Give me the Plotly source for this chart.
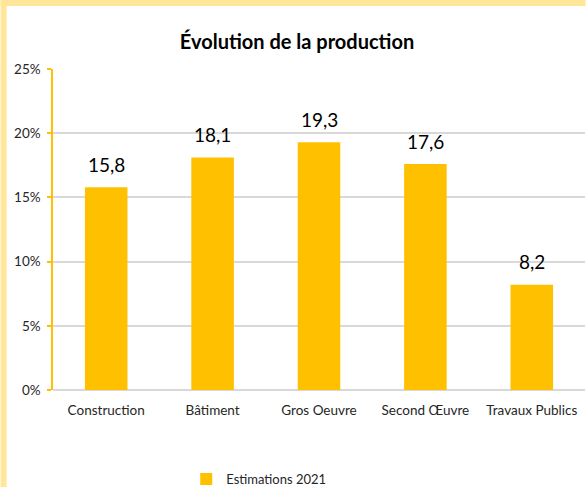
import plotly.graph_objects as go

categories = ['Construction', 'Bâtiment', 'Gros Oeuvre', 'Second Œuvre', 'Travaux Publics']
values = [15.8, 18.1, 19.3, 17.6, 8.2]
labels = ['15,8', '18,1', '19,3', '17,6', '8,2']
y_ticks = [0, 5, 10, 15, 20, 25]
y_tick_text = ['0%', '5%', '10%', '15%', '20%', '25%']
series_name = 'Estimations 2021'

W, H = 586, 487
L, R, T, B = 52.5, 0.5, 69, 97
pw, ph = W - L - R, H - T - B

gold = '#FFC000'
border = '#FFE699'
font = 'Lato'

fig = go.Figure()
fig.add_trace(go.Bar(
    x=categories,
    y=values,
    name=series_name,
    marker=dict(color=gold, line=dict(width=0)),
    width=0.4,
    hoverinfo='x+y'
))

# data labels above the bars
for c, v, t in zip(categories, values, labels):
    fig.add_annotation(x=c, y=v, text=t, showarrow=False,
                       yanchor='middle', yshift=23,
                       font=dict(family=font, size=19, color='#000000'))

# pale yellow frame on the left and top
def px_x(p):
    return (p - L) / pw

def px_y(p):
    return (H - B - p) / ph

fig.add_shape(type='rect', xref='paper', yref='paper',
              x0=px_x(0), x1=px_x(6), y0=px_y(H), y1=px_y(0),
              fillcolor=border, line=dict(width=0), layer='above')
fig.add_shape(type='rect', xref='paper', yref='paper',
              x0=px_x(0), x1=px_x(W), y0=px_y(6), y1=px_y(0),
              fillcolor=border, line=dict(width=0), layer='above')

fig.update_layout(
    width=W,
    height=H,
    autosize=False,
    margin=dict(l=L, r=R, t=T, b=B, pad=0, autoexpand=False),
    paper_bgcolor='white',
    plot_bgcolor='white',
    title=dict(text='<b>Évolution de la production</b>', x=px_x(297), xanchor='center',
               xref='paper', y=1 - 42 / H, yanchor='middle',
               font=dict(family=font, size=20, color='#000000')),
    font=dict(family=font, size=13, color='#404040'),
    showlegend=True,
    legend=dict(orientation='h', x=px_x(186), xanchor='left', y=px_y(479), yanchor='middle',
                font=dict(family=font, size=13, color='#262626'),
                bgcolor='rgba(0,0,0,0)'),
    xaxis=dict(showline=False, showgrid=False, zeroline=False, ticks='',
               tickfont=dict(family=font, size=13.5, color='#262626'),
               ticklabelstandoff=10, automargin=False),
    yaxis=dict(range=[0, 25], tickvals=y_ticks, ticktext=y_tick_text,
               showline=True, linecolor=gold, linewidth=1.5,
               ticks='outside', ticklen=4, tickcolor=gold, tickwidth=1.5,
               showgrid=True, gridcolor='#D9D9D9', gridwidth=1.5,
               zeroline=True, zerolinecolor='#D9D9D9', zerolinewidth=1.5,
               tickfont=dict(family=font, size=13.5, color='#262626'),
               ticklabelstandoff=4, automargin=False),
)

# the page body has a default 8px margin; drop it so the figure sits at 0,0
fig.write_html('out.html', post_script="document.body.style.margin='0';",
               config=dict(displayModeBar=False))
